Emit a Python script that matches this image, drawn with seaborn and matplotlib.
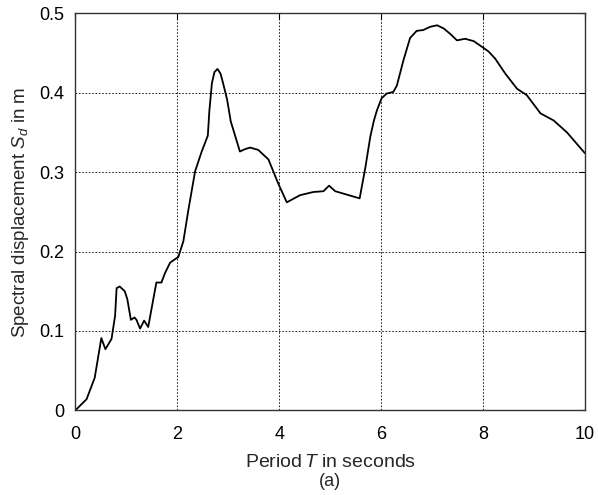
import matplotlib
matplotlib.use('Agg')
import matplotlib.pyplot as plt
import seaborn as sns
import pandas as pd

# periodo (s) y desplazamiento espectral (m)
periodo = [0.0, 0.22, 0.38, 0.45, 0.51, 0.59, 0.71, 0.78, 0.81, 0.87, 0.97, 1.02,
           1.09, 1.16, 1.2, 1.27, 1.35, 1.43, 1.59, 1.69, 1.76, 1.86, 1.97, 2.02,
           2.12, 2.22, 2.35, 2.48, 2.6, 2.63, 2.68, 2.73, 2.79, 2.85, 2.9, 2.98,
           3.05, 3.23, 3.33, 3.43, 3.59, 3.79, 3.98, 4.15, 4.41, 4.67, 4.87, 4.98,
           5.1, 5.58, 5.69, 5.79, 5.86, 5.92, 6.01, 6.11, 6.24, 6.31, 6.44, 6.57,
           6.7, 6.83, 6.96, 7.1, 7.23, 7.36, 7.49, 7.65, 7.82, 8.0, 8.11, 8.24,
           8.44, 8.67, 8.86, 9.13, 9.39, 9.65, 10.0]
sd = [0.0, 0.014, 0.041, 0.068, 0.091, 0.077, 0.09, 0.119, 0.154, 0.156, 0.15,
      0.14, 0.114, 0.117, 0.114, 0.103, 0.113, 0.105, 0.161, 0.161, 0.173,
      0.186, 0.191, 0.193, 0.213, 0.253, 0.301, 0.326, 0.346, 0.377, 0.412,
      0.426, 0.430, 0.424, 0.412, 0.391, 0.364, 0.326, 0.329, 0.331, 0.328,
      0.316, 0.286, 0.262, 0.271, 0.275, 0.276, 0.283, 0.276, 0.267, 0.305,
      0.345, 0.365, 0.378, 0.393, 0.399, 0.401, 0.409, 0.441, 0.469, 0.478,
      0.479, 0.483, 0.485, 0.481, 0.474, 0.466, 0.468, 0.465, 0.457, 0.452,
      0.443, 0.424, 0.405, 0.397, 0.374, 0.365, 0.350, 0.324]

xticks = [0, 2, 4, 6, 8, 10]
yticks = [0, 0.1, 0.2, 0.3, 0.4, 0.5]

df = pd.DataFrame({'T': periodo, 'Sd': sd})

sns.set_style('white')
plt.rcParams['font.family'] = ['Liberation Sans', 'DejaVu Sans']
plt.rcParams['mathtext.fontset'] = 'custom'
plt.rcParams['mathtext.rm'] = 'Liberation Sans'
plt.rcParams['mathtext.it'] = 'Liberation Sans:italic'

fig, ax = plt.subplots(figsize=(5.98, 4.95), dpi=100)
fig.subplots_adjust(left=0.126, right=0.978, top=0.973, bottom=0.171)

sns.lineplot(data=df, x='T', y='Sd', sort=False, color='black', linewidth=1.3, ax=ax)
ax.lines[0].set_solid_joinstyle('round')

ax.set_xlim(0, 10)
ax.set_ylim(0, 0.5)
ax.set_xticks(xticks)
ax.set_yticks(yticks)
ax.set_xticklabels([str(t) for t in xticks])
ax.set_yticklabels(['0'] + [f'{v:.1f}' for v in yticks[1:]])
ax.grid(True, color='black', linestyle=(0, (2, 2)), linewidth=0.6)
ax.tick_params(direction='in', top=True, right=True, length=4, labelsize=13,
               color='black', labelcolor='black')
ax.tick_params(axis='x', pad=11)
ax.tick_params(axis='y', pad=8)
for s in ax.spines.values():
    s.set_color('#333333')
    s.set_linewidth(1.0)

ax.set_xlabel('Period$\\,T$ in seconds', fontsize=14, labelpad=8)
ax.set_ylabel('Spectral displacement $S_d$ in m', fontsize=13.5, labelpad=6)
fig.text(0.552, 0.028, '(a)', ha='center', va='center', fontsize=13)

fig.savefig('out.png', dpi=100)
